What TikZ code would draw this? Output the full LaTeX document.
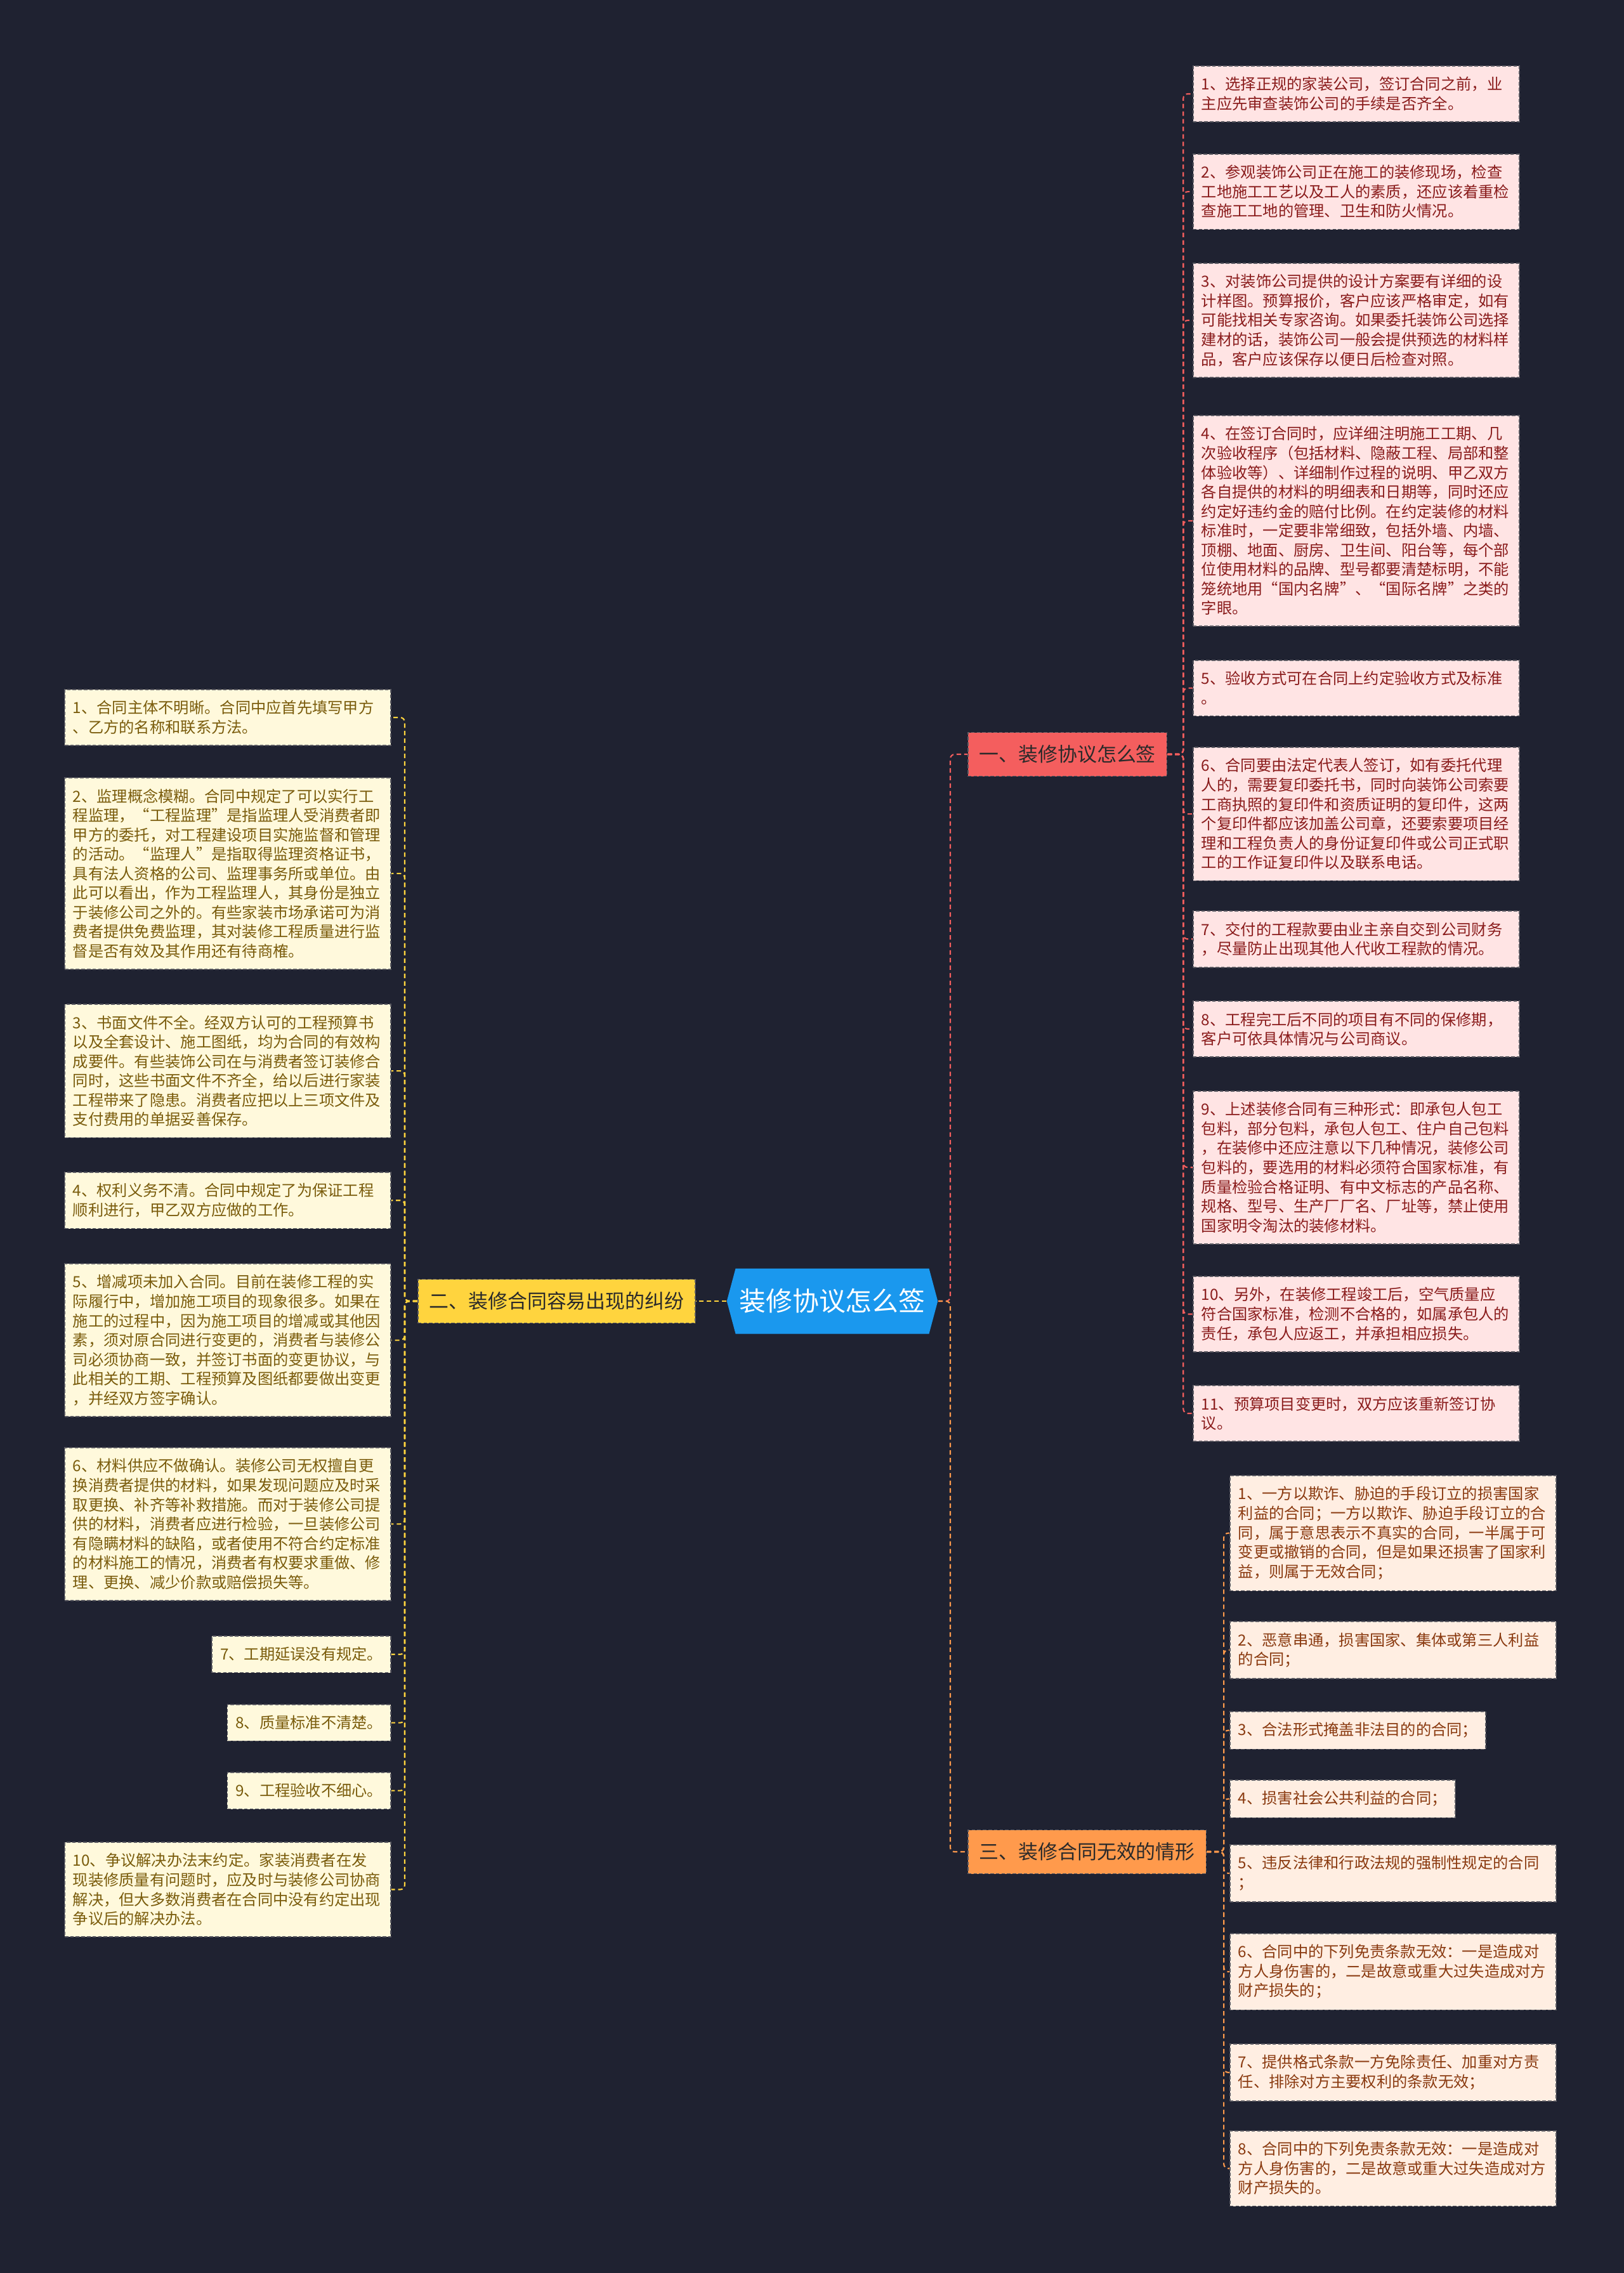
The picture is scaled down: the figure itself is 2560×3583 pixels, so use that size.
\documentclass[tikz,border=0pt]{standalone}
\usepackage{fontspec}
\setmainfont{Noto Sans CJK SC}
\usepackage{tikz}
\usetikzlibrary{shapes.symbols}
\definecolor{bgnavy}{HTML}{1F2231}
\definecolor{rootblue}{HTML}{1A98EE}
\definecolor{redbranch}{HTML}{F45E5E}
\definecolor{yellowbranch}{HTML}{FFD43E}
\definecolor{orangebranch}{HTML}{FF9A4C}
\definecolor{pinkleaf}{HTML}{FFE4E4}
\definecolor{creamleaf}{HTML}{FFF9DC}
\definecolor{peachleaf}{HTML}{FFEEE2}
\definecolor{redtext}{HTML}{8A1C1C}
\definecolor{goldtext}{HTML}{7A5C0C}
\definecolor{browntext}{HTML}{8A3A10}
\definecolor{branchtext}{HTML}{2A2A2A}
\definecolor{edgegray}{HTML}{5A5A62}

\newcommand\leaffont{\fontsize{6.9pt}{8.68pt}\selectfont}
\newcommand\branchfont{\fontsize{8.8pt}{10pt}\selectfont}
\newcommand\rootfont{\fontsize{11.9pt}{13pt}\selectfont}

\tikzset{
  leafbox/.style={draw=edgegray, line width=0.45pt, dash pattern=on 1.6pt off 0.9pt,
    inner xsep=0.13cm, inner ysep=5pt, align=left, font=\leaffont},
  wideleaf/.style={leafbox, text width=4.88cm},
  redleaf/.style={fill=pinkleaf, text=redtext},
  goldleaf/.style={fill=creamleaf, text=goldtext},
  brownleaf/.style={fill=peachleaf, text=browntext},
  branchbox/.style={draw=edgegray, line width=0.45pt, dash pattern=on 1.6pt off 0.9pt,
    inner xsep=5pt, minimum height=0.69cm, text=branchtext, font=\branchfont},
  rootnode/.style={shape=signal, signal to=west and east, signal pointer angle=150,
    fill=rootblue, text=white, font=\rootfont, inner xsep=0.06cm, minimum height=1.03cm},
  link/.style={line width=0.6pt, dash pattern=on 2pt off 1.4pt, rounded corners=2pt}
}

\begin{document}
\begin{tikzpicture}[x=0.01cm, y=-0.01cm]
  \fill[bgnavy] (0,0) rectangle (2560,3583);
  \useasboundingbox (0,0) rectangle (2560,3583);

  % centre and the three branches
  \node[rootnode] (root) at (1312,2051) {装修协议怎么签};
  \node[branchbox, fill=redbranch, anchor=west] (g1) at (1525,1189) {一、装修协议怎么签};
  \node[branchbox, fill=yellowbranch, anchor=east] (g2) at (1097,2051) {二、装修合同容易出现的纠纷};
  \node[branchbox, fill=orangebranch, anchor=west] (g3) at (1525,2919) {三、装修合同无效的情形};

  % branch one
  \node[wideleaf, redleaf, anchor=north west] (r1) at (1880,103)
    {1、选择正规的家装公司，签订合同之前，业\\主应先审查装饰公司的手续是否齐全。};
  \node[wideleaf, redleaf, anchor=north west] (r2) at (1880,242)
    {2、参观装饰公司正在施工的装修现场，检查\\工地施工工艺以及工人的素质，还应该着重检\\查施工工地的管理、卫生和防火情况。};
  \node[wideleaf, redleaf, anchor=north west] (r3) at (1880,414)
    {3、对装饰公司提供的设计方案要有详细的设\\计样图。预算报价，客户应该严格审定，如有\\可能找相关专家咨询。如果委托装饰公司选择\\建材的话，装饰公司一般会提供预选的材料样\\品，客户应该保存以便日后检查对照。};
  \node[wideleaf, redleaf, anchor=north west] (r4) at (1880,654)
    {4、在签订合同时，应详细注明施工工期、几\\次验收程序（包括材料、隐蔽工程、局部和整\\体验收等）、详细制作过程的说明、甲乙双方\\各自提供的材料的明细表和日期等，同时还应\\约定好违约金的赔付比例。在约定装修的材料\\标准时，一定要非常细致，包括外墙、内墙、\\顶棚、地面、厨房、卫生间、阳台等，每个部\\位使用材料的品牌、型号都要清楚标明，不能\\笼统地用“国内名牌”、“国际名牌”之类的\\字眼。};
  \node[wideleaf, redleaf, anchor=north west] (r5) at (1880,1040)
    {5、验收方式可在合同上约定验收方式及标准\\。};
  \node[wideleaf, redleaf, anchor=north west] (r6) at (1880,1177)
    {6、合同要由法定代表人签订，如有委托代理\\人的，需要复印委托书，同时向装饰公司索要\\工商执照的复印件和资质证明的复印件，这两\\个复印件都应该加盖公司章，还要索要项目经\\理和工程负责人的身份证复印件或公司正式职\\工的工作证复印件以及联系电话。};
  \node[wideleaf, redleaf, anchor=north west] (r7) at (1880,1435)
    {7、交付的工程款要由业主亲自交到公司财务\\，尽量防止出现其他人代收工程款的情况。};
  \node[wideleaf, redleaf, anchor=north west] (r8) at (1880,1577)
    {8、工程完工后不同的项目有不同的保修期，\\客户可依具体情况与公司商议。};
  \node[wideleaf, redleaf, anchor=north west] (r9) at (1880,1719)
    {9、上述装修合同有三种形式：即承包人包工\\包料，部分包料，承包人包工、住户自己包料\\，在装修中还应注意以下几种情况，装修公司\\包料的，要选用的材料必须符合国家标准，有\\质量检验合格证明、有中文标志的产品名称、\\规格、型号、生产厂厂名、厂址等，禁止使用\\国家明令淘汰的装修材料。};
  \node[wideleaf, redleaf, anchor=north west] (r10) at (1880,2011)
    {10、另外，在装修工程竣工后，空气质量应\\符合国家标准，检测不合格的，如属承包人的\\责任，承包人应返工，并承担相应损失。};
  \node[wideleaf, redleaf, anchor=north west] (r11) at (1880,2183)
    {11、预算项目变更时，双方应该重新签订协\\议。};

  % branch two
  \node[wideleaf, goldleaf, anchor=north east] (l1) at (617,1086)
    {1、合同主体不明晰。合同中应首先填写甲方\\、乙方的名称和联系方法。};
  \node[wideleaf, goldleaf, anchor=north east] (l2) at (617,1225)
    {2、监理概念模糊。合同中规定了可以实行工\\程监理，“工程监理”是指监理人受消费者即\\甲方的委托，对工程建设项目实施监督和管理\\的活动。“监理人”是指取得监理资格证书，\\具有法人资格的公司、监理事务所或单位。由\\此可以看出，作为工程监理人，其身份是独立\\于装修公司之外的。有些家装市场承诺可为消\\费者提供免费监理，其对装修工程质量进行监\\督是否有效及其作用还有待商榷。};
  \node[wideleaf, goldleaf, anchor=north east] (l3) at (617,1582)
    {3、书面文件不全。经双方认可的工程预算书\\以及全套设计、施工图纸，均为合同的有效构\\成要件。有些装饰公司在与消费者签订装修合\\同时，这些书面文件不齐全，给以后进行家装\\工程带来了隐患。消费者应把以上三项文件及\\支付费用的单据妥善保存。};
  \node[wideleaf, goldleaf, anchor=north east] (l4) at (617,1847)
    {4、权利义务不清。合同中规定了为保证工程\\顺利进行，甲乙双方应做的工作。};
  \node[wideleaf, goldleaf, anchor=north east] (l5) at (617,1991)
    {5、增减项未加入合同。目前在装修工程的实\\际履行中，增加施工项目的现象很多。如果在\\施工的过程中，因为施工项目的增减或其他因\\素，须对原合同进行变更的，消费者与装修公\\司必须协商一致，并签订书面的变更协议，与\\此相关的工期、工程预算及图纸都要做出变更\\，并经双方签字确认。};
  \node[wideleaf, goldleaf, anchor=north east] (l6) at (617,2281)
    {6、材料供应不做确认。装修公司无权擅自更\\换消费者提供的材料，如果发现问题应及时采\\取更换、补齐等补救措施。而对于装修公司提\\供的材料，消费者应进行检验，一旦装修公司\\有隐瞒材料的缺陷，或者使用不符合约定标准\\的材料施工的情况，消费者有权要求重做、修\\理、更换、减少价款或赔偿损失等。};
  \node[leafbox, goldleaf, anchor=north east] (l7) at (617,2578) {7、工期延误没有规定。};
  \node[leafbox, goldleaf, anchor=north east] (l8) at (617,2686) {8、质量标准不清楚。};
  \node[leafbox, goldleaf, anchor=north east] (l9) at (617,2793) {9、工程验收不细心。};
  \node[wideleaf, goldleaf, anchor=north east] (l10) at (617,2903)
    {10、争议解决办法末约定。家装消费者在发\\现装修质量有问题时，应及时与装修公司协商\\解决，但大多数消费者在合同中没有约定出现\\争议后的解决办法。};

  % branch three
  \node[wideleaf, brownleaf, anchor=north west] (s1) at (1938,2325)
    {1、一方以欺诈、胁迫的手段订立的损害国家\\利益的合同；一方以欺诈、胁迫手段订立的合\\同，属于意思表示不真实的合同，一半属于可\\变更或撤销的合同，但是如果还损害了国家利\\益，则属于无效合同；};
  \node[wideleaf, brownleaf, anchor=north west] (s2) at (1938,2555)
    {2、恶意串通，损害国家、集体或第三人利益\\的合同；};
  \node[leafbox, brownleaf, anchor=north west] (s3) at (1938,2697) {3、合法形式掩盖非法目的的合同；};
  \node[leafbox, brownleaf, anchor=north west] (s4) at (1938,2805) {4、损害社会公共利益的合同；};
  \node[wideleaf, brownleaf, anchor=north west] (s5) at (1938,2907)
    {5、违反法律和行政法规的强制性规定的合同\\；};
  \node[wideleaf, brownleaf, anchor=north west] (s6) at (1938,3047)
    {6、合同中的下列免责条款无效：一是造成对\\方人身伤害的，二是故意或重大过失造成对方\\财产损失的；};
  \node[wideleaf, brownleaf, anchor=north west] (s7) at (1938,3221)
    {7、提供格式条款一方免除责任、加重对方责\\任、排除对方主要权利的条款无效；};
  \node[wideleaf, brownleaf, anchor=north west] (s8) at (1938,3358)
    {8、合同中的下列免责条款无效：一是造成对\\方人身伤害的，二是故意或重大过失造成对方\\财产损失的。};

  % connectors
  \draw[link, draw=redbranch] (root.east) -- ++(19,0) |- (g1.west);
  \draw[link, draw=orangebranch] (root.east) -- ++(19,0) |- (g3.west);
  \draw[link, draw=yellowbranch] (root.west) -- (g2.east);
  \foreach \n in {1,...,11}
    \draw[link, draw=redbranch] (g1.east) -- ++(25,0) |- (r\n.west);
  \foreach \n in {1,...,10}
    \draw[link, draw=yellowbranch] (g2.west) -- ++(-20,0) |- (l\n.east);
  \foreach \n in {1,...,8}
    \draw[link, draw=orangebranch] (g3.east) -- ++(27,0) |- (s\n.west);
\end{tikzpicture}
\end{document}
